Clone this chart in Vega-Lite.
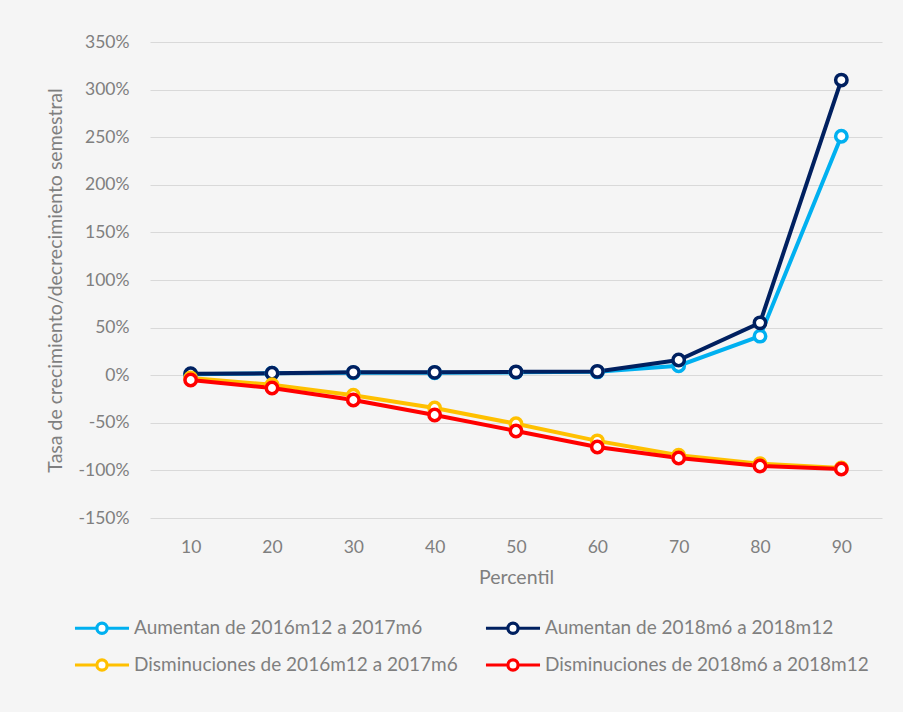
{
  "$schema": "https://vega.github.io/schema/vega-lite/v6.json",
  "width": 732,
  "height": 476,
  "autosize": {"type": "none"},
  "padding": {"left": 150, "top": 42, "right": 21, "bottom": 194},
  "background": "#f5f5f5",
  "config": {
    "view": {"stroke": null},
    "font": "Lato",
    "axis": {"labelColor": "#7f7f7f", "titleColor": "#7f7f7f", "labelFont": "Lato", "titleFont": "Lato", "titleFontWeight": "normal", "labelFontSize": 17.5, "titleFontSize": 19.5, "domain": false, "ticks": false, "gridColor": "#d9d9d9", "gridWidth": 1.2},
    "legend": {"labelColor": "#7f7f7f", "labelFont": "Lato", "labelFontSize": 19}
  },
  "data": {"values": [
    {"p": "10", "s": "Aumentan de 2016m12 a 2017m6", "v": 0.01},
    {"p": "20", "s": "Aumentan de 2016m12 a 2017m6", "v": 0.02},
    {"p": "30", "s": "Aumentan de 2016m12 a 2017m6", "v": 0.025},
    {"p": "40", "s": "Aumentan de 2016m12 a 2017m6", "v": 0.025},
    {"p": "50", "s": "Aumentan de 2016m12 a 2017m6", "v": 0.03},
    {"p": "60", "s": "Aumentan de 2016m12 a 2017m6", "v": 0.035},
    {"p": "70", "s": "Aumentan de 2016m12 a 2017m6", "v": 0.10},
    {"p": "80", "s": "Aumentan de 2016m12 a 2017m6", "v": 0.41},
    {"p": "90", "s": "Aumentan de 2016m12 a 2017m6", "v": 2.51},
    {"p": "10", "s": "Aumentan de 2018m6 a 2018m12", "v": 0.015},
    {"p": "20", "s": "Aumentan de 2018m6 a 2018m12", "v": 0.02},
    {"p": "30", "s": "Aumentan de 2018m6 a 2018m12", "v": 0.03},
    {"p": "40", "s": "Aumentan de 2018m6 a 2018m12", "v": 0.03},
    {"p": "50", "s": "Aumentan de 2018m6 a 2018m12", "v": 0.035},
    {"p": "60", "s": "Aumentan de 2018m6 a 2018m12", "v": 0.04},
    {"p": "70", "s": "Aumentan de 2018m6 a 2018m12", "v": 0.16},
    {"p": "80", "s": "Aumentan de 2018m6 a 2018m12", "v": 0.55},
    {"p": "90", "s": "Aumentan de 2018m6 a 2018m12", "v": 3.10},
    {"p": "10", "s": "Disminuciones de 2016m12 a 2017m6", "v": -0.03},
    {"p": "20", "s": "Disminuciones de 2016m12 a 2017m6", "v": -0.10},
    {"p": "30", "s": "Disminuciones de 2016m12 a 2017m6", "v": -0.21},
    {"p": "40", "s": "Disminuciones de 2016m12 a 2017m6", "v": -0.345},
    {"p": "50", "s": "Disminuciones de 2016m12 a 2017m6", "v": -0.51},
    {"p": "60", "s": "Disminuciones de 2016m12 a 2017m6", "v": -0.69},
    {"p": "70", "s": "Disminuciones de 2016m12 a 2017m6", "v": -0.84},
    {"p": "80", "s": "Disminuciones de 2016m12 a 2017m6", "v": -0.93},
    {"p": "90", "s": "Disminuciones de 2016m12 a 2017m6", "v": -0.975},
    {"p": "10", "s": "Disminuciones de 2018m6 a 2018m12", "v": -0.05},
    {"p": "20", "s": "Disminuciones de 2018m6 a 2018m12", "v": -0.135},
    {"p": "30", "s": "Disminuciones de 2018m6 a 2018m12", "v": -0.26},
    {"p": "40", "s": "Disminuciones de 2018m6 a 2018m12", "v": -0.418},
    {"p": "50", "s": "Disminuciones de 2018m6 a 2018m12", "v": -0.586},
    {"p": "60", "s": "Disminuciones de 2018m6 a 2018m12", "v": -0.754},
    {"p": "70", "s": "Disminuciones de 2018m6 a 2018m12", "v": -0.87},
    {"p": "80", "s": "Disminuciones de 2018m6 a 2018m12", "v": -0.954},
    {"p": "90", "s": "Disminuciones de 2018m6 a 2018m12", "v": -0.985}
  ]},
  "mark": {"type": "line", "strokeWidth": 4, "point": {"filled": false, "fill": "white", "size": 130, "strokeWidth": 3.5, "opacity": 1}},
  "encoding": {
    "x": {"field": "p", "type": "ordinal", "title": "Percentil", "scale": {"type": "point", "padding": 0.5}, "axis": {"labelAngle": 0, "labelPadding": 20, "titlePadding": 13, "grid": false}},
    "y": {"field": "v", "type": "quantitative", "title": "Tasa de crecimiento/decrecimiento semestral", "scale": {"domain": [-1.5, 3.5], "nice": false}, "axis": {"labelExpr": "replace(format(datum.value, '.0%'), '−', '-')", "values": [-1.5, -1, -0.5, 0, 0.5, 1, 1.5, 2, 2.5, 3, 3.5], "labelPadding": 21, "titlePadding": 13}},
    "color": {"field": "s", "type": "nominal", "title": null,
      "scale": {"domain": ["Aumentan de 2016m12 a 2017m6", "Aumentan de 2018m6 a 2018m12", "Disminuciones de 2016m12 a 2017m6", "Disminuciones de 2018m6 a 2018m12"], "range": ["#00b0f0", "#002060", "#ffc000", "#ff0000"]},
      "legend": {"orient": "none", "legendX": -67, "legendY": 567, "columns": 2, "columnPadding": 21, "rowPadding": 6,
        "values": ["Aumentan de 2016m12 a 2017m6", "Disminuciones de 2016m12 a 2017m6", "Aumentan de 2018m6 a 2018m12", "Disminuciones de 2018m6 a 2018m12"],
        "symbolType": "M-1.59,0L-0.3,0M0.3,0L1.59,0M-0.3,0A0.3,0.3,0,1,1,0.3,0A0.3,0.3,0,1,1,-0.3,0",
        "symbolSize": 1156, "symbolStrokeWidth": 3.2, "symbolFillColor": "white", "labelOffset": 13, "labelLimit": 400,
        "symbolOpacity": 1}
    }
  }
}
